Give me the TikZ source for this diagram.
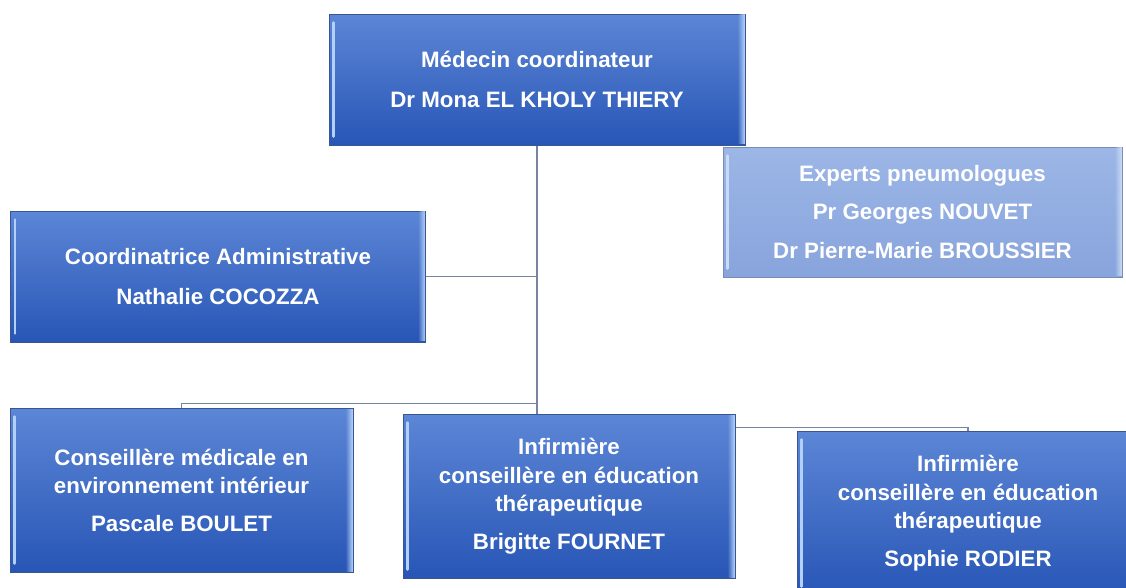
\documentclass[tikz,border=0pt]{standalone}
\usepackage{fontspec}
\setmainfont{Liberation Sans}
\usetikzlibrary{backgrounds,fadings}
\definecolor{boxtop}{RGB}{92,134,214}
\definecolor{boxbot}{RGB}{40,86,182}
\definecolor{boxedge}{RGB}{58,86,146}
\definecolor{boxlight}{RGB}{178,208,248}
\definecolor{exptop}{RGB}{156,182,230}
\definecolor{expbot}{RGB}{136,164,220}
\definecolor{expedge}{RGB}{120,140,180}
\definecolor{explight}{RGB}{200,218,245}
\definecolor{conncol}{RGB}{118,134,160}
\newcommand\bevelbox[2]{%
  \draw[#2, line width=2.5pt, line cap=round]
    ([xshift=5pt,yshift=-9pt]#1.north west) -- ([xshift=5pt,yshift=9pt]#1.south west);
  \fill[#2, path fading=west]
    ([xshift=-8pt,yshift=-1pt]#1.north east) rectangle ([xshift=-1pt,yshift=1pt]#1.south east);
}
\begin{document}
\begin{tikzpicture}[x=1pt,y=-1pt,
  orgbox/.style={draw=boxedge, line width=1pt, top color=boxtop, bottom color=boxbot,
    text=white, align=center, inner sep=0pt,
    font=\bfseries\fontsize{22.3}{28.5}\selectfont},
  expbox/.style={orgbox, draw=expedge, top color=exptop, bottom color=expbot},
  conn/.style={draw=conncol, line width=1.6pt}]
\useasboundingbox (0,0) rectangle (1126,587);
\clip (0,0) rectangle (1126,587);
\node[orgbox, minimum width=416pt, minimum height=131pt] (top) at (537,79.5)
  {M\'edecin coordinateur\\[11pt]Dr Mona EL KHOLY THIERY};
\node[expbox, minimum width=399pt, minimum height=130pt] (exp) at (922.5,212)
  {Experts pneumologues\\[10pt]Pr Georges NOUVET\\[10pt]Dr Pierre-Marie BROUSSIER};
\node[orgbox, minimum width=415pt, minimum height=131pt] (coord) at (218,276.5)
  {Coordinatrice Administrative\\[11pt]Nathalie COCOZZA};
\node[orgbox, minimum width=343pt, minimum height=164pt] (bl) at (181.5,490)
  {Conseill\`ere m\'edicale en\\environnement int\'erieur\\[9pt]Pascale BOULET};
\node[orgbox, minimum width=332pt, minimum height=164pt] (mid) at (569,496)
  {Infirmi\`ere\\conseill\`ere en \'education\\th\'erapeutique\\[9pt]Brigitte FOURNET};
\node[orgbox, minimum width=342pt, minimum height=164pt] (rt) at (968,513)
  {Infirmi\`ere\\conseill\`ere en \'education\\th\'erapeutique\\[9pt]Sophie RODIER};
\bevelbox{top}{boxlight}
\bevelbox{coord}{boxlight}
\bevelbox{bl}{boxlight}
\bevelbox{mid}{boxlight}
\bevelbox{rt}{boxlight}
\bevelbox{exp}{explight}
\begin{scope}[on background layer]
\draw[conn] (top.south) -- (top.south |- mid.north);
\draw[conn] (coord.east) -- (coord.east -| top.south);
\draw[conn] ([yshift=4pt]top.south |- bl.north) -| (bl.north);
\draw[conn] ([yshift=3pt]top.south |- rt.north) -| (rt.north);
\end{scope}
\end{tikzpicture}
\end{document}
